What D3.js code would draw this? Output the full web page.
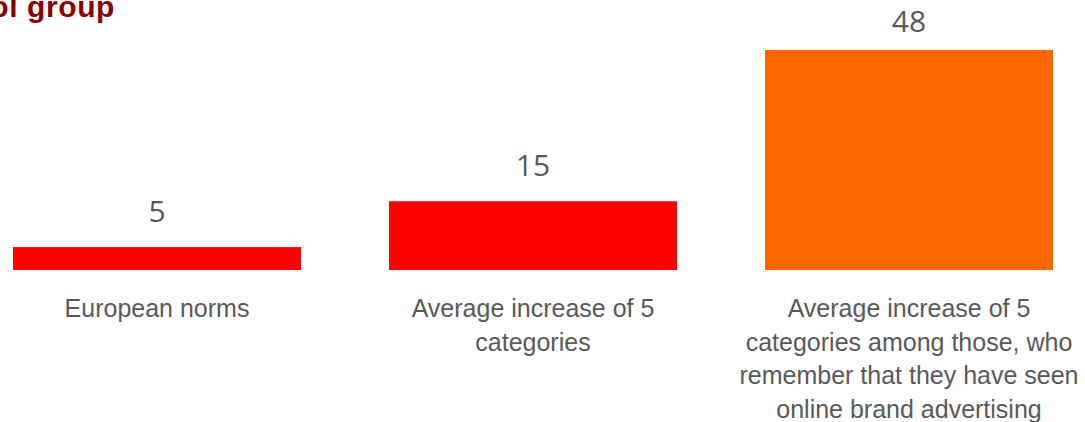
<!DOCTYPE html>
<html>
<head>
<meta charset="utf-8">
<script src="https://cdn.jsdelivr.net/npm/d3@7"></script>
<style>
  body { margin: 0; background: #fff; overflow: hidden; }
  svg { display: block; }
</style>
</head>
<body>
<div id="chart"></div>
<script>
// data
var categories = ["European norms", "Average increase of 5 categories", "Average increase of 5 categories among those, who remember that they have seen online brand advertising"];
var categoryLines = [
    ["European norms"],
    ["Average increase of 5", "categories"],
    ["Average increase of 5", "categories among those, who", "remember that they have seen", "online brand advertising"]
];
var values = [5, 15, 48];
var colors = ["#ff0000", "#ff0000", "#ff6600"];
var title = "control group";

var w = 1085;
var h = 422;
var base = 270;

var svg = d3.select('#chart').append('svg')
    .attr('width', w)
    .attr('height', h);

var x = d3.scaleBand()
    .domain(categories)
    .range([-31, 1097])
    .paddingInner(0.234)
    .paddingOuter(0.117);

var y = d3.scaleLinear()
    .domain([0, 48])
    .range([base, 50]);

// title, cut off at the left edge like in the slide
svg.append('text')
    .attr('x', 115)
    .attr('y', 17)
    .attr('text-anchor', 'end')
    .attr('font-family', 'Liberation Sans, Arial, sans-serif')
    .attr('font-weight', 'bold')
    .attr('font-size', 30)
    .attr('letter-spacing', 0.6)
    .attr('fill', '#8b0000')
    .text(title);

svg.selectAll('rect.bar')
    .data(values)
    .enter()
    .append('rect')
    .attr('class', 'bar')
    .attr('x', function(d, i){ return x(categories[i]) })
    .attr('width', x.bandwidth())
    .attr('y', function(d){ return y(d) })
    .attr('height', function(d){ return base - y(d) })
    .attr('fill', function(d, i){ return colors[i] });

// value labels, kept inside the plot at the top
svg.selectAll('text.val')
    .data(values)
    .enter()
    .append('text')
    .attr('class', 'val')
    .attr('x', function(d, i){ return x(categories[i]) + x.bandwidth()/2 })
    .attr('y', function(d){ return Math.max(y(d) - 25, 32) })
    .attr('text-anchor', 'middle')
    .attr('font-family', 'Open Sans, sans-serif')
    .attr('font-size', 30)
    .attr('fill', '#595959')
    .text(function(d){ return d });

// category labels
var cat = svg.selectAll('text.cat')
    .data(categoryLines)
    .enter()
    .append('text')
    .attr('class', 'cat')
    .attr('text-anchor', 'middle')
    .attr('font-family', 'Liberation Sans, Arial, sans-serif')
    .attr('font-size', 25)
    .attr('fill', '#595959');

cat.selectAll('tspan')
    .data(function(d, i){ return d.map(function(t){ return {t: t, i: i} }) })
    .enter()
    .append('tspan')
    .attr('x', function(d){ return x(categories[d.i]) + x.bandwidth()/2 })
    .attr('y', function(d, j){ return 317 + j*33.7 })
    .text(function(d){ return d.t });
</script>
</body>
</html>
